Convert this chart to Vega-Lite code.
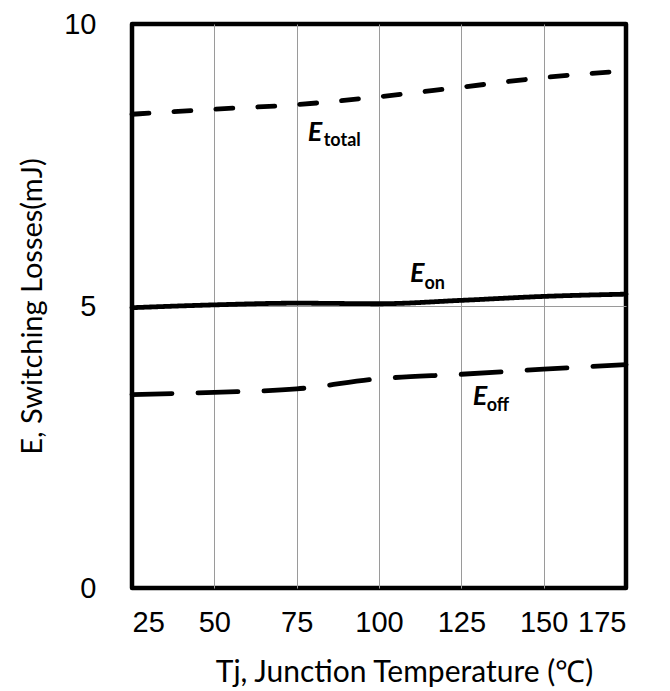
{
  "$schema": "https://vega.github.io/schema/vega-lite/v6.json",
  "autosize": {"type": "none"},
  "width": 494,
  "height": 564,
  "padding": {"left": 132, "top": 24, "right": 44, "bottom": 103},
  "background": "white",
  "config": {
    "view": {"stroke": "black", "strokeWidth": 4.5, "strokeJoin": "round"},
    "axis": {
      "labelFont": "Liberation Sans",
      "labelFontSize": 29,
      "labelColor": "black",
      "titleFont": "Lato",
      "titleFontSize": 29,
      "titleFontWeight": "normal",
      "titleColor": "black",
      "ticks": false,
      "domain": false,
      "gridColor": "#9a9a9a",
      "gridWidth": 1
    }
  },
  "datasets": {
    "curves": [
      {"series": "Etotal", "T": 25, "E": 8.40},
      {"series": "Etotal", "T": 50, "E": 8.49},
      {"series": "Etotal", "T": 75, "E": 8.57},
      {"series": "Etotal", "T": 100, "E": 8.71},
      {"series": "Etotal", "T": 125, "E": 8.88},
      {"series": "Etotal", "T": 150, "E": 9.05},
      {"series": "Etotal", "T": 175, "E": 9.17},
      {"series": "Eon", "T": 25, "E": 4.97},
      {"series": "Eon", "T": 50, "E": 5.02},
      {"series": "Eon", "T": 75, "E": 5.05},
      {"series": "Eon", "T": 100, "E": 5.04},
      {"series": "Eon", "T": 125, "E": 5.10},
      {"series": "Eon", "T": 150, "E": 5.17},
      {"series": "Eon", "T": 175, "E": 5.21},
      {"series": "Eoff", "T": 25, "E": 3.43},
      {"series": "Eoff", "T": 50, "E": 3.47},
      {"series": "Eoff", "T": 75, "E": 3.53},
      {"series": "Eoff", "T": 100, "E": 3.71},
      {"series": "Eoff", "T": 125, "E": 3.79},
      {"series": "Eoff", "T": 150, "E": 3.88},
      {"series": "Eoff", "T": 175, "E": 3.96}
    ],
    "mainLabels": [
      {"T": 78.4, "E": 7.92, "text": "E"},
      {"T": 109.4, "E": 5.42, "text": "E"},
      {"T": 128.5, "E": 3.25, "text": "E"}
    ],
    "subLabels": [
      {"T": 83.2, "E": 7.83, "text": "total"},
      {"T": 113.8, "E": 5.31, "text": "on"},
      {"T": 132.7, "E": 3.13, "text": "off"}
    ]
  },
  "layer": [
    {
      "data": {"name": "curves"},
      "mark": {"type": "line", "color": "black", "strokeWidth": 4.8, "strokeCap": "round", "interpolate": "monotone"},
      "encoding": {
        "x": {
          "field": "T", "type": "quantitative",
          "scale": {"domain": [25, 175], "nice": false, "zero": false},
          "axis": {
            "values": [25, 50, 75, 100, 125, 150, 175],
            "title": "Tj, Junction Temperature (℃)",
            "titleFontSize": 30,
            "labelPadding": 20,
            "titlePadding": 20,
            "titleX": 272,
            "gridOpacity": {"condition": {"test": "datum.value == 25 || datum.value == 175", "value": 0}, "value": 1}
          }
        },
        "y": {
          "field": "E", "type": "quantitative",
          "scale": {"domain": [0, 10], "nice": false},
          "axis": {
            "values": [0, 5, 10],
            "format": "d",
            "title": "E, Switching Losses(mJ)",
            "labelPadding": 36,
            "titlePadding": 16,
            "gridOpacity": {"condition": {"test": "datum.value == 0 || datum.value == 10", "value": 0}, "value": 1}
          }
        },
        "detail": {"field": "series"},
        "strokeDash": {
          "field": "series", "type": "nominal",
          "scale": {"domain": ["Etotal", "Eon", "Eoff"], "range": [[17, 25], [1, 0], [40, 26]]},
          "legend": null
        }
      }
    },
    {
      "data": {"name": "mainLabels"},
      "mark": {"type": "text", "font": "Lato", "fontSize": 27, "fontWeight": "bold", "fontStyle": "italic", "align": "left", "baseline": "alphabetic", "color": "black"},
      "encoding": {
        "x": {"field": "T", "type": "quantitative"},
        "y": {"field": "E", "type": "quantitative"},
        "text": {"field": "text"}
      }
    },
    {
      "data": {"name": "subLabels"},
      "mark": {"type": "text", "font": "Lato", "fontSize": 18, "fontWeight": "bold", "align": "left", "baseline": "alphabetic", "color": "black"},
      "encoding": {
        "x": {"field": "T", "type": "quantitative"},
        "y": {"field": "E", "type": "quantitative"},
        "text": {"field": "text"}
      }
    }
  ]
}
